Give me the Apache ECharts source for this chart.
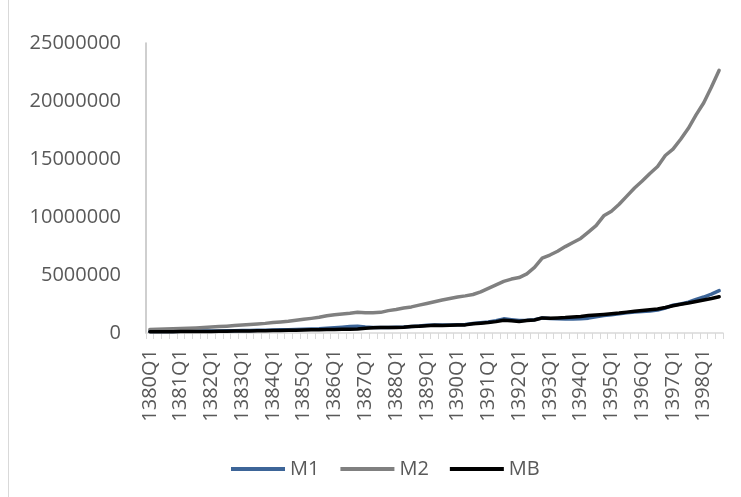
<!DOCTYPE html>
<html>
<head>
<meta charset="utf-8">
<script src="https://cdn.jsdelivr.net/npm/echarts@6/dist/echarts.min.js"></script>
<style>
  html, body { margin: 0; padding: 0; background: #ffffff; }
  #chart { width: 741px; height: 497px; }
</style>
</head>
<body>
<div id="chart"></div>
<script>
// Quarterly periods, 1380Q1 .. 1398Q3
const firstYear = 1380;
const lastYear = 1398;
const lastQuarter = 3;
const quarters = [];
for (let y = firstYear; y <= lastYear; y++) {
  for (let q = 1; q <= 4; q++) {
    if (y === lastYear && q > lastQuarter) break;
    quarters.push(y + 'Q' + q);
  }
}

// Narrow money
const m1 = [
  120000, 125000, 130000, 140000, 145000, 150000, 160000, 170000, 175000, 180000,
  190000, 200000, 210000, 220000, 230000, 240000, 250000, 270000, 280000, 300000,
  320000, 340000, 360000, 400000, 450000, 500000, 550000, 580000, 520000, 480000,
  470000, 480000, 500000, 520000, 560000, 600000, 660000, 700000, 680000, 700000,
  720000, 740000, 820000, 880000, 950000, 1050000, 1220000, 1150000, 1080000, 1100000,
  1150000, 1300000, 1250000, 1220000, 1200000, 1200000, 1220000, 1280000, 1400000, 1500000,
  1580000, 1650000, 1740000, 1800000, 1850000, 1900000, 1980000, 2150000, 2400000, 2500000,
  2650000, 2900000, 3100000, 3350000, 3650000
];

// Broad money (liquidity)
const m2 = [
  300000, 320000, 340000, 370000, 390000, 420000, 440000, 470000, 510000, 550000,
  590000, 640000, 690000, 730000, 780000, 830000, 900000, 950000, 1010000, 1090000,
  1180000, 1260000, 1350000, 1480000, 1580000, 1640000, 1700000, 1780000, 1740000, 1750000,
  1780000, 1930000, 2030000, 2150000, 2250000, 2400000, 2550000, 2700000, 2850000, 2980000,
  3100000, 3200000, 3320000, 3550000, 3850000, 4150000, 4450000, 4650000, 4780000, 5100000,
  5650000, 6450000, 6720000, 7050000, 7450000, 7800000, 8150000, 8700000, 9250000, 10100000,
  10500000, 11100000, 11800000, 12500000, 13100000, 13750000, 14350000, 15300000, 15850000, 16700000,
  17650000, 18800000, 19850000, 21200000, 22650000
];

// Monetary base
const mb = [
  100000, 105000, 110000, 115000, 120000, 125000, 130000, 135000, 140000, 150000,
  160000, 165000, 170000, 180000, 190000, 200000, 210000, 220000, 230000, 245000,
  260000, 270000, 280000, 300000, 310000, 320000, 330000, 350000, 400000, 450000,
  480000, 470000, 480000, 500000, 550000, 580000, 620000, 660000, 640000, 660000,
  680000, 700000, 800000, 850000, 900000, 980000, 1100000, 1050000, 1000000, 1080000,
  1120000, 1300000, 1280000, 1300000, 1330000, 1380000, 1430000, 1500000, 1550000, 1600000,
  1660000, 1720000, 1800000, 1870000, 1930000, 2000000, 2070000, 2200000, 2350000, 2480000,
  2580000, 2720000, 2850000, 2980000, 3130000
];

const yTicks = [0, 5000000, 10000000, 15000000, 20000000, 25000000];

const textColor = '#595959';
const fontFamily = '"Open Sans", "Liberation Sans", sans-serif';

const chart = echarts.init(document.getElementById('chart'), null, { renderer: 'canvas' });

function lineSeries(name, data, color) {
  return {
    name: name,
    type: 'line',
    data: data,
    symbol: 'none',
    smooth: false,
    lineStyle: { color: color, width: 3.5, cap: 'round', join: 'round' },
    itemStyle: { color: color },
    emphasis: { disabled: true }
  };
}

chart.setOption({
  animation: false,
  backgroundColor: '#ffffff',
  graphic: [{
    type: 'line',
    shape: { x1: 8.5, y1: 0, x2: 8.5, y2: 497 },
    style: { stroke: '#d9d9d9', lineWidth: 1 }
  }],
  grid: { left: 146, right: 18, top: 43, bottom: 164, containLabel: false },
  legend: {
    data: ['M1', 'M2', 'MB'],
    left: 226,
    top: 454,
    icon: 'rect',
    itemWidth: 54,
    itemHeight: 4,
    itemGap: 21,
    textStyle: { color: textColor, fontSize: 20, fontFamily: fontFamily, padding: [0, 0, 0, 0] }
  },
  xAxis: {
    type: 'category',
    data: quarters,
    boundaryGap: true,
    axisLine: { lineStyle: { color: '#d9d9d9', width: 1.5 } },
    axisTick: { show: true, interval: 0, length: 6, lineStyle: { color: '#d9d9d9', width: 1 } },
    axisLabel: {
      interval: 3,
      rotate: 90,
      margin: 16,
      color: textColor,
      fontSize: 20,
      fontFamily: fontFamily
    },
    splitLine: { show: false }
  },
  yAxis: {
    type: 'value',
    min: yTicks[0],
    max: yTicks[yTicks.length - 1],
    interval: yTicks[1] - yTicks[0],
    axisLine: { show: true, lineStyle: { color: '#bfbfbf', width: 1.5 } },
    axisTick: { show: false },
    axisLabel: {
      margin: 25,
      color: textColor,
      fontSize: 20,
      fontFamily: fontFamily,
      formatter: function (v) { return String(v); }
    },
    splitLine: { show: false }
  },
  series: [
    lineSeries('M1', m1, '#3d6598'),
    lineSeries('M2', m2, '#808080'),
    lineSeries('MB', mb, '#000000')
  ]
});
</script>
</body>
</html>
